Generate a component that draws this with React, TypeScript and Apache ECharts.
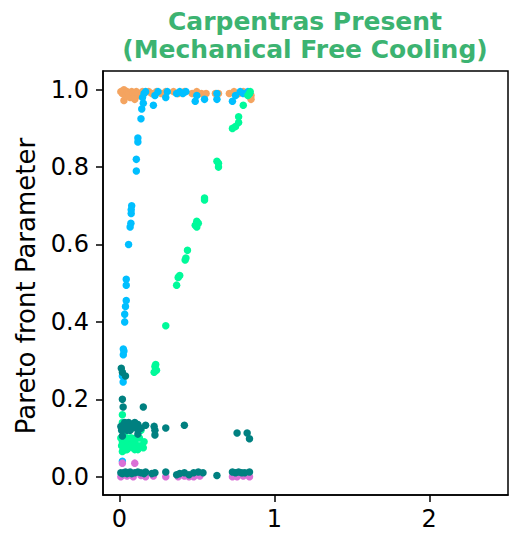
import React, { useEffect, useRef } from "react";
import * as echarts from "echarts";

// ---- data (x, y) ----
const orangePoints: number[][] = [
  [0.01, 0.995], [0.02, 0.99], [0.03, 1.0], [0.03, 0.972], [0.04, 0.985], [0.05, 0.995],
  [0.06, 0.99], [0.07, 0.98], [0.08, 0.995], [0.09, 0.99], [0.1, 0.985], [0.1, 0.975],
  [0.11, 0.995], [0.12, 0.99], [0.13, 0.985], [0.15, 0.995], [0.19, 0.995], [0.21, 0.99],
  [0.24, 0.995], [0.27, 0.99], [0.3, 0.995], [0.35, 0.995], [0.38, 0.99], [0.42, 0.995],
  [0.47, 0.99], [0.5, 0.995], [0.53, 0.99], [0.56, 0.99], [0.62, 0.99], [0.64, 0.99],
  [0.71, 0.99], [0.74, 0.995], [0.77, 0.99], [0.8, 0.995], [0.83, 0.99], [0.85, 0.985],
  [0.85, 0.975],
];

const bluePoints: number[][] = [
  [0.02, 0.005], [0.02, 0.04], [0.025, 0.245], [0.02, 0.26], [0.026, 0.315], [0.03, 0.325],
  [0.026, 0.33], [0.035, 0.4], [0.035, 0.42], [0.04, 0.44], [0.045, 0.455], [0.045, 0.495],
  [0.045, 0.51], [0.06, 0.6], [0.07, 0.645], [0.075, 0.655], [0.077, 0.68], [0.077, 0.69],
  [0.08, 0.7], [0.11, 0.79], [0.11, 0.82], [0.12, 0.865], [0.12, 0.875], [0.14, 0.925],
  [0.145, 0.95], [0.155, 0.965], [0.15, 0.98], [0.16, 0.99], [0.17, 0.995], [0.22, 0.96],
  [0.23, 0.985], [0.25, 0.995], [0.3, 0.98], [0.31, 0.995], [0.37, 0.99], [0.39, 0.995],
  [0.41, 0.99], [0.43, 0.995], [0.49, 0.97], [0.5, 0.985], [0.55, 0.975], [0.63, 0.975],
  [0.63, 0.99], [0.73, 0.97], [0.75, 0.985], [0.78, 0.995], [0.8, 0.99], [0.83, 0.995],
  [0.84, 0.99],
];

const greenPoints: number[][] = [
  [0.02, 0.16], [0.02, 0.14], [0.01, 0.1], [0.02, 0.09], [0.03, 0.08], [0.04, 0.095],
  [0.05, 0.07], [0.06, 0.09], [0.07, 0.1], [0.08, 0.085], [0.1, 0.09], [0.12, 0.08],
  [0.13, 0.1], [0.14, 0.12], [0.155, 0.075], [0.16, 0.09], [0.02, 0.065], [0.12, 0.07],
  [0.03, 0.1], [0.05, 0.1], [0.06, 0.075], [0.08, 0.1], [0.09, 0.075], [0.11, 0.1],
  [0.14, 0.08], [0.04, 0.07], [0.03, 0.11], [0.1, 0.07], [0.015, 0.08],
  [0.225, 0.27], [0.23, 0.285], [0.24, 0.275], [0.235, 0.29], [0.3, 0.39], [0.37, 0.495],
  [0.38, 0.515], [0.39, 0.52], [0.425, 0.56], [0.43, 0.565], [0.44, 0.585], [0.49, 0.65],
  [0.5, 0.645], [0.5, 0.66], [0.51, 0.655], [0.55, 0.715], [0.55, 0.72], [0.63, 0.815],
  [0.64, 0.8], [0.64, 0.81], [0.73, 0.9], [0.75, 0.905], [0.77, 0.915], [0.77, 0.93],
  [0.8, 0.96], [0.83, 0.985], [0.84, 0.99], [0.845, 0.995],
];

const orchidPoints: number[][] = [
  [0.02, 0.035], [0.1, 0.035], [0.01, 0.0], [0.05, 0.002], [0.09, 0.0], [0.14, 0.003],
  [0.17, 0.0], [0.22, 0.002], [0.3, 0.0], [0.38, 0.0], [0.42, 0.002], [0.45, 0.0],
  [0.48, 0.0], [0.52, 0.002], [0.73, 0.0], [0.76, 0.0], [0.8, 0.002], [0.84, 0.0],
];

const tealPoints: number[][] = [
  [0.013, 0.28], [0.02, 0.27], [0.04, 0.26], [0.02, 0.2], [0.025, 0.18], [0.155, 0.18],
  [0.01, 0.13], [0.02, 0.125], [0.03, 0.135], [0.04, 0.13], [0.05, 0.12], [0.06, 0.13],
  [0.07, 0.135], [0.08, 0.125], [0.1, 0.13], [0.12, 0.135], [0.14, 0.125], [0.17, 0.133],
  [0.035, 0.14], [0.06, 0.14], [0.09, 0.135], [0.11, 0.125], [0.015, 0.12], [0.07, 0.12],
  [0.1, 0.14],
  [0.225, 0.13], [0.23, 0.12], [0.3, 0.126], [0.42, 0.133], [0.12, 0.11], [0.23, 0.108],
  [0.02, 0.105], [0.76, 0.113], [0.825, 0.113], [0.84, 0.098],
  [0.01, 0.01], [0.02, 0.008], [0.03, 0.01], [0.04, 0.012], [0.05, 0.008], [0.06, 0.01],
  [0.07, 0.012], [0.08, 0.008], [0.1, 0.01], [0.12, 0.012], [0.14, 0.01], [0.16, 0.008],
  [0.17, 0.012], [0.21, 0.008], [0.23, 0.01], [0.3, 0.012], [0.37, 0.005], [0.39, 0.008],
  [0.42, 0.01], [0.45, 0.005], [0.48, 0.01], [0.51, 0.012], [0.54, 0.01], [0.63, 0.003],
  [0.73, 0.012], [0.75, 0.01], [0.77, 0.012], [0.79, 0.01], [0.81, 0.01], [0.84, 0.012],
];

const xTicks = [0, 1, 2];
const yTicks = [0, 0.2, 0.4, 0.6, 0.8, 1.0];
const titleLines = ["Carpentras Present", "(Mechanical Free Cooling)"];
const yLabel = "Pareto front Parameter";

const FONT = "DejaVu Sans";

export default function App() {
  const ref = useRef<HTMLDivElement>(null);
  useEffect(() => {
    if (!ref.current) return;
    const chart = echarts.init(ref.current, undefined, { renderer: "svg" });
    const mk = (name: string, data: number[][], color: string) => ({
      name,
      type: "scatter",
      data,
      symbol: "circle",
      symbolSize: 7.5,
      itemStyle: { color, opacity: 1 },
      emphasis: { disabled: true },
    });
    chart.setOption({
      animation: false,
      grid: {
        left: 103, right: 2, top: 71, bottom: 41,
        show: true, borderColor: "#000", borderWidth: 1.5, backgroundColor: "transparent",
      },
      xAxis: {
        type: "value",
        min: -0.105,
        max: 2.508,
        splitLine: { show: false },
        axisLine: { show: true, onZero: false, lineStyle: { color: "#000", width: 1.5 } },
        axisTick: { show: true, length: 7, customValues: xTicks, lineStyle: { color: "#000", width: 1.5 } },
        axisLabel: {
          customValues: xTicks,
          margin: 12,
          fontSize: 24,
          fontFamily: FONT,
          color: "#000",
          formatter: (v: number) => String(Math.round(v)),
        },
      },
      yAxis: {
        type: "value",
        min: -0.0473,
        max: 1.0483,
        splitLine: { show: false },
        axisLine: { show: true, onZero: false, lineStyle: { color: "#000", width: 1.5 } },
        axisTick: { show: true, length: 7, customValues: yTicks, lineStyle: { color: "#000", width: 1.5 } },
        axisLabel: {
          customValues: yTicks,
          margin: 14,
          fontSize: 24,
          fontFamily: FONT,
          color: "#000",
          formatter: (v: number) => v.toFixed(1),
        },
      },
      graphic: [
        {
          type: "text",
          x: 305,
          y: 21,
          style: {
            text: titleLines[0], fill: "#3CB371", font: `bold 25px "${FONT}"`,
            textAlign: "center", textVerticalAlign: "middle",
          },
        },
        {
          type: "text",
          x: 305,
          y: 49,
          style: {
            text: titleLines[1], fill: "#3CB371", font: `bold 25px "${FONT}"`,
            textAlign: "center", textVerticalAlign: "middle",
          },
        },
        {
          type: "text",
          x: 26,
          y: 286,
          rotation: Math.PI / 2,
          style: {
            text: yLabel, fill: "#000", font: `26px "${FONT}"`,
            textAlign: "center", textVerticalAlign: "middle",
          },
        },
      ],
      series: [
        mk("orange", orangePoints, "#F4A460"),
        mk("blue", bluePoints, "#00BFFF"),
        mk("green", greenPoints, "#00FA9A"),
        mk("orchid", orchidPoints, "#DA70D6"),
        mk("teal", tealPoints, "#008080"),
      ],
    });
    return () => chart.dispose();
  }, []);
  return (
    <div
      ref={ref}
      style={{ position: "fixed", left: 0, top: 0, width: 510, height: 536, background: "#fff" }}
    />
  );
}
